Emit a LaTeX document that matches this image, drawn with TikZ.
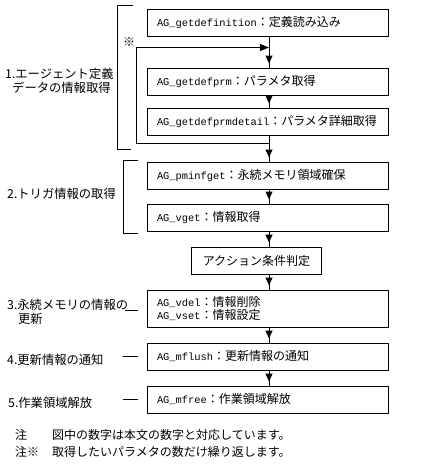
\documentclass[tikz,border=0pt]{standalone}
\usepackage{fontspec}
\setmainfont{Noto Sans CJK JP}
\setmonofont{Liberation Mono}
\usetikzlibrary{
  arrows.meta,
  positioning, calc,
  decorations.markings
}
\tikzset{
  basebox/.style={rectangle,draw=black,line width=1pt,font=\fontsize{12}{13}\selectfont},
  funcbox/.style={basebox,minimum width=241pt,minimum height=27pt,text width=221pt,inner xsep=10pt,align=left},
  judgebox/.style={basebox,minimum width=130pt,minimum height=27pt,align=center},
  steplabel/.style={font=\fontsize{12.3}{14}\selectfont,align=left,anchor=west,inner sep=0pt},
  notelabel/.style={font=\fontsize{12}{17}\selectfont,anchor=west,inner sep=0pt},
  flowarr/.style={line width=1pt,postaction={decorate},
    decoration={markings,mark=at position -4pt with {\arrow{Triangle[length=8pt,width=7pt]}}}},
  looparr/.style={line width=1pt,-{Triangle[length=9pt,width=7pt]}},
  brk/.style={line width=1pt}
}
\newcommand{\fn}[1]{{\fontsize{10.4}{13}\selectfont\ttfamily #1}}

\begin{document}
\begin{tikzpicture}[x=1pt,y=-1pt]
  \useasboundingbox (0,0) rectangle (432,474);

  \node[funcbox] (getdef) at (267.5,22.5) {\fn{AG\_getdefinition}：定義読み込み};
  \node[funcbox,below=31pt of getdef] (getprm) {\fn{AG\_getdefprm}：パラメタ取得};
  \node[funcbox,below=12pt of getprm] (getdetail) {\fn{AG\_getdefprmdetail}：パラメタ詳細取得};
  \node[funcbox,below=26pt of getdetail] (pminf) {\fn{AG\_pminfget}：永続メモリ領域確保};
  \node[funcbox,below=14pt of pminf] (vget) {\fn{AG\_vget}：情報取得};
  \node[judgebox,below=15pt of vget,xshift=-11pt] (judge) {アクション条件判定};
  \node[funcbox,below=58pt of vget,minimum height=37pt] (vupd)
    {\fn{AG\_vdel}：情報削除\\\fn{AG\_vset}：情報設定};
  \node[funcbox,below=15pt of vupd] (mflush) {\fn{AG\_mflush}：更新情報の通知};
  \node[funcbox,below=15pt of mflush] (mfree) {\fn{AG\_mfree}：作業領域解放};

  \coordinate (spine) at (269,0);
  \coordinate (loopTop) at ($(getdef.south -| spine)+(0,11)$);
  \coordinate (loopBot) at ($(getdetail.south -| spine)+(0,8)$);
  \coordinate (loopCor) at ($(getdef.west |- loopTop)+(-10,0)$);

  \draw[flowarr] (getdef.south -| spine) -- (getprm.north -| spine);
  \draw[flowarr] (getprm.south -| spine) -- (getdetail.north -| spine);
  \draw[flowarr] (getdetail.south -| spine) -- (pminf.north -| spine);
  \draw[flowarr] (pminf.south -| spine) -- (vget.north -| spine);
  \draw[flowarr] (vget.south -| spine) -- (judge.north -| spine);
  \draw[flowarr] (judge.south -| spine) -- (vupd.north -| spine);
  \draw[flowarr] (vupd.south -| spine) -- (mflush.north -| spine);
  \draw[flowarr] (mflush.south -| spine) -- (mfree.north -| spine);
  \draw[looparr] (loopBot) -| (loopCor) -- (loopTop);

  \node[font=\fontsize{12}{13}\selectfont,inner sep=0pt] (repmark) at (129,42) {※};

  \draw[brk] (133,5) -- (117,5) -- (117,149) -- (131,149);
  \draw[brk] (138,160) -- (123,160) -- (123,233) -- (138,233);
  \draw[brk] ([xshift=-22pt,yshift=-1.5pt]vupd.west) -- ([xshift=-9pt,yshift=-1.5pt]vupd.west);
  \draw[brk] ([xshift=-24pt]mflush.west) -- ([xshift=-9pt]mflush.west);
  \draw[brk] ([xshift=-24pt]mfree.west) -- ([xshift=-9pt]mfree.west);

  \node[steplabel] (lab1) at (5,81) {1.エージェント定義\\\hspace*{7pt}データの情報取得};
  \node[steplabel] (lab2) at (7,194) {2.トリガ情報の取得};
  \node[steplabel] (lab3) at (7,312) {3.永続メモリの情報の\\\hspace*{11pt}更新};
  \node[steplabel] (lab4) at (7,360) {4.更新情報の通知};
  \node[steplabel] (lab5) at (8,403) {5.作業領域解放};

  \node[notelabel] (note) at (15,444.5)
    {\begin{tabular}{@{}p{37pt}@{}l@{}}
      注 & 図中の数字は本文の数字と対応しています。\\
      注※ & 取得したいパラメタの数だけ繰り返します。
     \end{tabular}};
\end{tikzpicture}
\end{document}
